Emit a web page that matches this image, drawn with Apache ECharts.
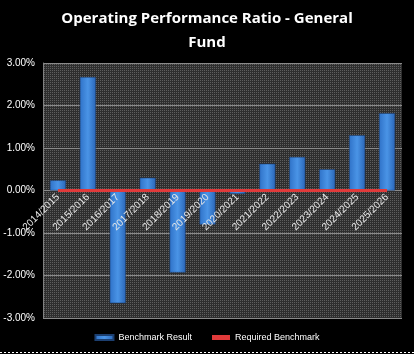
<!DOCTYPE html>
<html>
<head>
<meta charset="utf-8">
<script src="https://cdn.jsdelivr.net/npm/echarts@6/dist/echarts.min.js"></script>
<style>
  html, body { margin: 0; padding: 0; background: #000; }
  #chart { width: 414px; height: 354px; }
</style>
</head>
<body>
<div id="chart"></div>
<script>
// financial years
var years = ['2014/2015', '2015/2016', '2016/2017', '2017/2018', '2018/2019', '2019/2020',
             '2020/2021', '2021/2022', '2022/2023', '2023/2024', '2024/2025', '2025/2026'];
// operating performance ratio, in %
var benchmarkResult = [0.24, 2.67, -2.65, 0.30, -1.93, -0.80, -0.08, 0.63, 0.79, 0.50, 1.30, 1.82];
// required benchmark, in %
var requiredBenchmark = [0, 0, 0, 0, 0, 0, 0, 0, 0, 0, 0, 0];
var yTicks = { min: -3, max: 3, step: 1 };

var gridTop = 63, gridBottom = 36, chartHeight = 354;

// dotted background of the plot area
function dotPattern() {
    var c = document.createElement('canvas');
    c.width = 2; c.height = 2;
    var ctx = c.getContext('2d');
    ctx.fillStyle = '#2e2e2e';
    ctx.fillRect(0, 0, 2, 2);
    ctx.fillStyle = '#5e5e5e';
    ctx.fillRect(0, 0, 1, 1);
    return c;
}

// the category labels sit under the zero line, so shift the x axis up to it
var plotHeight = chartHeight - gridTop - gridBottom;
var zeroOffset = -plotHeight * (yTicks.max / (yTicks.max - yTicks.min));

var myChart = echarts.init(document.getElementById('chart'));
var option = {
    backgroundColor: '#000',
    animation: false,
    title: {
        text: 'Operating Performance Ratio - General\nFund',
        left: 'center',
        top: 2,
        textStyle: {
            color: '#fff',
            fontFamily: 'Open Sans',
            fontWeight: 'bold',
            fontSize: 15,
            lineHeight: 24
        }
    },
    legend: {
        bottom: 7,
        left: 'center',
        itemWidth: 18,
        itemHeight: 5,
        itemGap: 20,
        textStyle: { color: '#fff', fontSize: 9, fontFamily: 'Liberation Sans' },
        data: [
            { name: 'Benchmark Result', icon: 'rect' },
            { name: 'Required Benchmark', icon: 'rect' }
        ]
    },
    grid: {
        left: 43,
        right: 12,
        top: gridTop,
        bottom: gridBottom,
        show: true,
        backgroundColor: { image: dotPattern(), repeat: 'repeat' },
        borderWidth: 0
    },
    xAxis: {
        type: 'category',
        data: years,
        position: 'bottom',
        offset: zeroOffset,
        z: 10,
        axisLine: { show: false, onZero: false },
        axisTick: { show: false },
        axisLabel: {
            rotate: 45,
            color: '#e8e8e8',
            fontSize: 10,
            fontFamily: 'Liberation Sans',
            margin: 5
        }
    },
    yAxis: {
        type: 'value',
        min: yTicks.min,
        max: yTicks.max,
        interval: yTicks.step,
        axisLine: { show: true, lineStyle: { color: '#808080' } },
        axisTick: { show: false },
        splitLine: { show: true, lineStyle: { color: '#8a8a8a', width: 1 } },
        axisLabel: {
            color: '#fff',
            fontSize: 10,
            fontFamily: 'Liberation Sans',
            margin: 8,
            formatter: function(v) { return v.toFixed(2) + '%'; }
        }
    },
    series: [{
        name: 'Benchmark Result',
        type: 'bar',
        barWidth: 16,
        data: benchmarkResult,
        itemStyle: {
            color: new echarts.graphic.LinearGradient(0, 0, 1, 0, [
                { offset: 0, color: '#2f72c8' },
                { offset: 0.5, color: '#4a94e6' },
                { offset: 1, color: '#2a66b8' }
            ]),
            borderColor: '#1c3f70',
            borderWidth: 0.5
        }
    }, {
        name: 'Required Benchmark',
        type: 'line',
        data: requiredBenchmark,
        symbol: 'none',
        z: 5,
        itemStyle: { color: '#e03a3a' },
        lineStyle: { color: '#e03a3a', width: 3 }
    }],
    graphic: [{
        type: 'line',
        shape: { x1: 0, y1: 352.5, x2: 414, y2: 352.5 },
        style: { stroke: '#fff', lineWidth: 1, lineDash: [2, 2] }
    }]
};
myChart.setOption(option);
</script>
</body>
</html>
